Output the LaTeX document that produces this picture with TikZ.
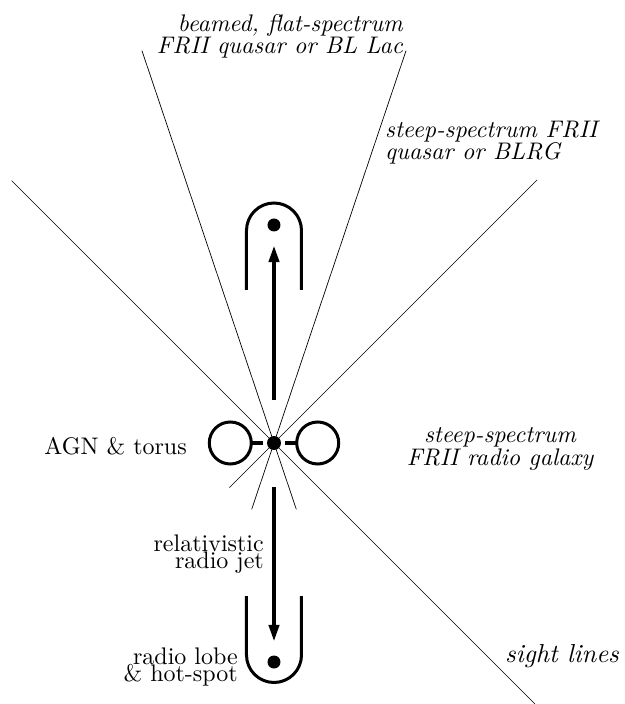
\documentclass[tikz,border=0pt]{standalone}
\usepackage{fontspec}
\setmainfont{lmroman10-regular.otf}[ItalicFont=lmroman10-italic.otf]
\usetikzlibrary{arrows.meta,positioning}

\begin{document}
\begin{tikzpicture}[
  x=1pt, y=1pt,
  node distance=14pt,
  coredot/.style={circle,fill,inner sep=0pt,minimum size=14pt},
  spot/.style={circle,fill,inner sep=0pt,minimum size=13pt},
  torus/.style={circle,draw,line width=3pt,inner sep=0pt,minimum size=42pt},
  lobe/.style={line width=3pt},
  jet/.style={-{Triangle[length=17pt,width=10pt]},line width=4pt,shorten >=13.5pt},
  stub/.style={line width=3.5pt,shorten >=4pt,shorten <=-2pt},
  sight/.style={line width=0.7pt},
  lbl/.style={inner sep=0pt,font=\fontsize{24}{17.5}\selectfont,
    execute at begin node={\lineskiplimit=-50pt\relax}},
  classlbl/.style={inner sep=0pt,font=\fontsize{24}{22}\selectfont\itshape,
    execute at begin node={\lineskiplimit=-50pt\relax}}
]
  \useasboundingbox (-274,-261) rectangle (350,443);

  % central engine and torus
  \node[coredot] (agn) at (0,0) {};
  \node[torus, left=of agn] (torusL) {};
  \node[torus, right=of agn] (torusR) {};
  \draw[stub] (torusL) -- (agn);
  \draw[stub] (torusR) -- (agn);

  % lobes and jets
  \node[spot] (topspot) at (0,218) {};
  \node[spot] (botspot) at (0,-219) {};
  \draw[lobe] (-27.5,153) -- (-27.5,212.5) arc[start angle=180,end angle=0,radius=27.5] -- (27.5,153);
  \draw[lobe] (-27.5,-153) -- (-27.5,-212) arc[start angle=180,end angle=360,radius=27.5] -- (27.5,-153);
  \draw[jet, shorten <=36pt] (agn) -- (topspot);
  \draw[jet, shorten <=37pt] (agn) -- (botspot);

  % sight lines
  \foreach \n/\a/\r/\s in {a/135/371/369, b/45/372/63, c/108.6/414/70, d/71.4/414/70} {
    \coordinate (\n1) at (\a:\r);
    \coordinate (\n2) at ({\a+180}:\s);
    \draw[sight] (\n1) -- (\n2);
  }

  % labels (base anchor = last line)
  \node[classlbl, align=right, anchor=base east] (beamed) at (129,389) {beamed, flat-spectrum\\FRII quasar or BL Lac};
  \node[classlbl, align=left, anchor=base west] (blrg) at (111,283) {steep-spectrum FRII\\quasar or BLRG};
  \node[classlbl, align=center, anchor=base] (frii) at (226,-22) {steep-spectrum\\FRII radio galaxy};
  \node[classlbl, font=\fontsize{26}{26}\selectfont\itshape, anchor=base west] (sightlbl) at (231,-219) {sight lines};
  \node[lbl, anchor=base east] (agnlbl) at (-87,-12) {AGN \& torus};
  \node[lbl, align=right, anchor=base east] (jetlbl) at (-10,-125.5) {relativistic\\radio jet};
  \node[lbl, align=right, anchor=base east] (lobelbl) at (-36,-238.5) {radio lobe\\\& hot-spot};
\end{tikzpicture}
\end{document}
